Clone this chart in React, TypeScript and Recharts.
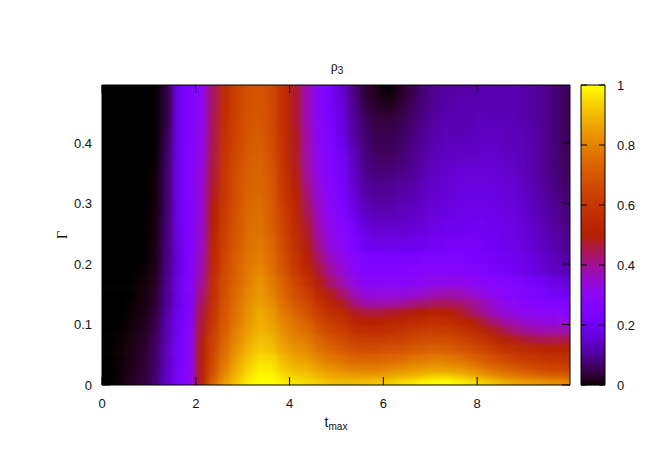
import React from 'react';
import { ScatterChart, Scatter, XAxis, YAxis } from 'recharts';

const tValues = [0.125,0.375,0.625,0.875,1.125,1.375,1.625,1.875,2.125,2.375,2.625,2.875,3.125,3.375,3.625,3.875,4.125,4.375,4.625,4.875,5.125,5.375,5.625,5.875,6.125,6.375,6.625,6.875,7.125,7.375,7.625,7.875,8.125,8.375,8.625,8.875,9.125,9.375,9.625,9.875];
const gammaValues = [0.49,0.47,0.44,0.41,0.38,0.35,0.32,0.29,0.26,0.23,0.21,0.19,0.17,0.15,0.135,0.12,0.105,0.09,0.075,0.06,0.045,0.035,0.025,0.015,0.005];
const rhoPercent = [
[0,0,0,0,0,4,19,25,30,44,56,64,68,69,66,56,47,37,28,22,15,8,3,1,0,2,5,8,10,11,11,11,12,12,12,12,11,10,8,6],
[0,0,0,0,0,4,19,25,30,44,56,64,68,69,66,56,47,37,28,22,16,9,4,2,1,3,6,8,10,11,12,12,12,12,12,12,11,10,8,6],
[0,0,0,0,0,4,19,25,30,45,57,64,69,70,66,56,47,37,29,23,17,10,6,4,4,5,7,9,11,12,12,12,13,13,13,12,11,10,8,6],
[0,0,0,0,0,5,19,25,31,45,58,65,70,71,67,57,48,38,29,24,18,11,7,5,5,6,8,10,12,13,13,13,14,14,13,13,12,10,8,6],
[0,0,0,0,0,6,19,26,32,46,59,66,71,72,68,57,48,38,30,25,20,13,8,6,6,7,9,11,13,14,14,14,15,15,14,13,12,10,8,6],
[0,0,0,0,0.2,6.5,19,26,33,47,60,67,72,73,69,58,49,39,31,26,21,14,9,8,8,9,10,12,14,15,16,16,16,16,15,14,12,10,8,6],
[0,0,0,0,0.3,7,19,26,34,48,61,68,73,74,70,60,51,42,33,28,23,16,11,10,10,11,12,14,15,16,17,17,17,17,16,15,13,11,9,7],
[0,0,0,0,0.5,7,18,25,34,50,62,69,74,75,71,62,53,44,35,29,25,18,13,12,12,13,14,15,16,17,18,18,18,18,17,16,14,12,10,8],
[0,0,0,0,0.7,7.5,18,25,35,51,63,70,75,76,72,64,55,47,37,31,27,22,17,15,15,15,16,17,18,19,19,20,20,19,18,17,15,13,11,9],
[0,0,0,0,1,8,17,25,36,53,64,71,76,78,74,66,57,49,40,33,29,25,20,19,19,19,19,20,21,22,22,22,21,20,19,18,16,14,12,10],
[0,0,0,0,1.2,8,17,25,37,54,65,72,77,79,75,67,59,51,43,36,32,27,24,23,23,23,23,24,24,24,24,23,22,21,20,19,17,15,13,11],
[0,0,0,0.2,1.6,8.5,17,25,38,55,66,73,78,81,76,69,61,54,46,39,34,29,26,26,26,26,27,28,28,28,27,26,25,23,22,20,18,16,14,13],
[0,0,0,0.4,2,9,18,25,40,56,67,74,79,83,78,72,64,58,49,43,38,32,28,28,28,28,29,30,31,31,31,30,28,27,25,24,22,20,18,16],
[0,0,0,0.6,2.5,9.5,18,26,42,57,68,75,81,84,80,74,67,62,54,48,43,37,33,33,33,33,34,35,37,38,37,35,32,30,28,26,24,23,21,20],
[0,0,0.1,0.8,3,10,18,26,44,58,69,76,82,85,82,76,70,66,59,53,48,42,38,38,38,39,41,43,44,44,43,41,38,34,31,29,27,26,25,25],
[0,0,0.2,1,3.5,11,19,26,46,59,70,77,83,87,84,78,73,68,62,57,54,48,46,46,47,48,49,50,51,50,48,44,40,36,33,32,30,29,28,28],
[0,0,0.4,1.5,4.5,12,20,26,47,60,71,78,84,88,85,80,76,72,66,61,58,53,51,51,52,53,55,56,57,56,54,50,46,42,38,36,34,33,32,32],
[0,0.05,0.6,1.8,5,12,20,27,48,62,72,80,85,89,87,82,78,75,69,65,62,57,56,56,57,58,60,61,62,61,59,56,52,48,44,41,39,38,38,38],
[0,0.1,0.8,2,5.5,12,20,27,49,63,74,81,87,91,89,84,80,78,73,69,66,62,61,61,62,63,65,66,66,66,64,61,58,54,50,48,46,45,45,45],
[0,0.15,1,2.4,6,13,21,27,50,64,75,83,89,92,91,86,83,81,76,73,70,67,66,66,67,68,70,71,72,71,69,66,64,60,57,55,53,52,51,51],
[0,0.2,1.3,2.8,6,13,21,28,50,66,77,85,91,95,94,89,86,84,80,77,75,72,72,72,73,74,76,77,78,77,75,72,70,67,64,61,60,58,57,57],
[0,0.25,1.5,3,6.5,13,21,28,51,67,79,87,93,96,96,91,88,87,83,80,78,76,76,76,77,78,80,81,82,81,80,77,74,71,69,66,64,62,61,61],
[0,0.3,1.7,3.2,6.5,14,22,28,51,68,80,88,94,98,97,93,90,89,86,84,82,80,80,80,81,83,84,85,86,85,84,82,79,76,74,71,69,67,66,65],
[0,0.35,1.9,3.4,7,14,22,29,51,70,82,90,96,99,99,95,93,92,89,87,86,85,85,85,86,88,89,91,93,93,91,88,85,82,79,77,75,73,72,71],
[0,0.4,2,3.5,7,14,22,29,52,74,85,92,98,100,100,98,96,95,93,91,90,90,91,92,93,95,97,99,100,100,98,96,93,91,88,86,85,84,83,82],
];
const frameCorners = [{ t: 0, g: 0 }, { t: 9.98, g: 0.496 }];
const barCorners = [{ x: 0, y: 0 }, { x: 1, y: 1 }];
const xTicks = [0, 2, 4, 6, 8];
const yTicks = [0, 0.1, 0.2, 0.3, 0.4];
const colorTicks = [0, 0.2, 0.4, 0.6, 0.8, 1];
const colorLevels = [0,1,2,3,4,5,6,7,8,9,10,11,12,13,14,15,16,17,18,19,20,21,22,23,24,25,26,27,28,29,30,31,32,33,34,35,36,37,38,39,40,41,42,43,44,45,46,47,48,49,50,51,52,53,54,55,56,57,58,59,60,61,62,63,64,65,66,67,68,69,70,71,72,73,74,75,76,77,78,79,80,81,82,83,84,85,86,87,88,89,90,91,92,93,94,95,96,97,98,99];

const W = 672, H = 471;
const L = 102, R = 570, T = 85, B = 385;
const XMAX = 9.98, YMAX = 0.496;
const SPLIT = 9; // rows above this index are tall and get a wider vertical softening
const FONT = '"Liberation Sans", Arial, sans-serif';
const SERIF = '"Liberation Serif", serif';

const palette = (v: number) => {
  const x = Math.min(1, Math.max(0, v));
  const r = Math.round(255 * Math.sqrt(x));
  const g = Math.round(255 * x * x * x);
  const b = Math.round(255 * Math.max(0, Math.sin(2 * Math.PI * x)));
  return `rgb(${r},${g},${b})`;
};

const heatData = gammaValues.flatMap((g, r) => {
  const top = r === 0 ? YMAX : (gammaValues[r - 1] + g) / 2;
  const bottom = r === gammaValues.length - 1 ? 0 : (gammaValues[r + 1] + g) / 2;
  return tValues.map((t, c) => ({
    t, g, r, v: rhoPercent[r][c] / 100,
    first: c === 0, last: c === tValues.length - 1,
    topRow: r === 0, bottomRow: r === gammaValues.length - 1,
    top, bottom,
  }));
});
const upperData = heatData.filter((d) => d.r <= SPLIT);
const lowerData = heatData.filter((d) => d.r > SPLIT);
const colorData = colorLevels.map((l) => ({ x: 0.5, y: (l + 0.5) / 100 }));

const sx = (R - L) / XMAX;
const sy = (B - T) / YMAX;

const HeatCell = (p: any) => {
  const d = p.payload;
  const cw = 0.25 * sx;
  const cx = p.cx, yTop = B - d.top * sy, yBot = B - d.bottom * sy;
  const pad = 24;
  const x0 = cx - cw / 2 - (d.first ? pad : 0);
  const x1 = cx + cw / 2 + (d.last ? pad : 0) + 0.5;
  const y0 = yTop - (d.topRow ? pad : 0);
  const y1 = yBot + (d.bottomRow || d.r === SPLIT ? pad : 0) + 0.5;
  return <rect x={x0} y={y0} width={x1 - x0} height={y1 - y0} fill={palette(d.v)} />;
};

const ColorCell = (p: any) => (
  <rect x={581} y={p.cy - 1.5} width={24} height={3.3} fill={palette(p.payload.y)} />
);
const Nothing = () => null;
const NoLabel = () => <g />;

const tickStyle = { fontSize: 13, fontFamily: FONT, fill: '#111' };
const line = { stroke: '#000', strokeWidth: 1 };
const fmt = (v: number) => String(v);
const layer: React.CSSProperties = { position: 'absolute', left: 0, top: 0 };

export default function App() {
  return (
    <div className="page" style={{ position: 'absolute', left: 0, top: 0, width: W, height: H, background: '#fff' }}>
      <style>{`.page .heatU{filter:url(#softU);clip-path:url(#plotclip)}.page .heatL{filter:url(#softL);clip-path:url(#plotclip)}`}</style>
      <svg width={0} height={0} style={{ position: 'absolute' }}>
        <defs>
          <filter id="softU" filterUnits="userSpaceOnUse" x={0} y={0} width={W} height={H} colorInterpolationFilters="sRGB">
            <feGaussianBlur stdDeviation="3.5 7" />
          </filter>
          <filter id="softL" filterUnits="userSpaceOnUse" x={0} y={0} width={W} height={H} colorInterpolationFilters="sRGB">
            <feGaussianBlur stdDeviation="3.5 2" />
          </filter>
          <clipPath id="plotclip" clipPathUnits="userSpaceOnUse">
            <rect x={L} y={T} width={R - L} height={B - T} />
          </clipPath>
        </defs>
      </svg>
      <div style={layer}>
        <ScatterChart width={W} height={H} margin={{ left: L, right: W - R, top: T, bottom: H - B }}>
          <XAxis xAxisId="h" hide type="number" dataKey="t" domain={[0, XMAX]} allowDataOverflow />
          <YAxis yAxisId="h" hide type="number" dataKey="g" domain={[0, YMAX]} allowDataOverflow />
          <Scatter className="heatU" data={upperData} xAxisId="h" yAxisId="h" isAnimationActive={false} shape={HeatCell} />
          <Scatter className="heatL" data={lowerData} xAxisId="h" yAxisId="h" isAnimationActive={false} shape={HeatCell} />
        </ScatterChart>
      </div>
      <div style={layer}>
        <ScatterChart width={W} height={H} margin={{ left: 581, right: W - 605, top: T, bottom: H - B }}>
          <XAxis xAxisId="c" hide type="number" dataKey="x" domain={[0, 1]} />
          <YAxis yAxisId="c" hide type="number" dataKey="y" domain={[0, 1]} />
          <Scatter data={colorData} xAxisId="c" yAxisId="c" isAnimationActive={false} shape={ColorCell} />
        </ScatterChart>
      </div>
      <div style={layer}>
        <ScatterChart width={W} height={H} margin={{ left: L - 60, right: W - R - 1, top: T - 1, bottom: H - B - 40 }}>
          <XAxis xAxisId="b" type="number" dataKey="t" domain={[0, XMAX]} ticks={xTicks} allowDataOverflow interval={0}
            height={40} tickSize={-8} tickMargin={22} tick={tickStyle} tickFormatter={fmt} axisLine={line} tickLine={line} />
          <XAxis xAxisId="t" orientation="top" type="number" dataKey="t" domain={[0, XMAX]} ticks={xTicks} allowDataOverflow interval={0}
            height={1} tickSize={-8} tick={NoLabel} axisLine={line} tickLine={line} />
          <YAxis yAxisId="l" type="number" dataKey="g" domain={[0, YMAX]} ticks={yTicks} allowDataOverflow interval={0}
            width={60} tickSize={-8} tickMargin={18} tick={tickStyle} tickFormatter={fmt} axisLine={line} tickLine={line} />
          <YAxis yAxisId="r" orientation="right" type="number" dataKey="g" domain={[0, YMAX]} ticks={yTicks} allowDataOverflow interval={0}
            width={1} tickSize={-8} tick={NoLabel} axisLine={line} tickLine={line} />
          <Scatter data={frameCorners} xAxisId="b" yAxisId="l" isAnimationActive={false} shape={Nothing} />
          <Scatter data={frameCorners} xAxisId="t" yAxisId="r" isAnimationActive={false} shape={Nothing} />
          <text x={337} y={71} textAnchor="middle" fontSize={14} fontFamily={FONT} fill="#111">
            <tspan fontFamily={SERIF}>ρ</tspan><tspan fontSize={10} dy={3}>3</tspan>
          </text>
          <text x={336} y={427} textAnchor="middle" fontSize={14} fontFamily={FONT} fill="#111">
            t<tspan fontSize={10} dy={3}>max</tspan>
          </text>
          <text x={67} y={235} textAnchor="middle" fontSize={14} fontFamily={SERIF} fill="#111" transform="rotate(-90 67 235)">Γ</text>
        </ScatterChart>
      </div>
      <div style={layer}>
        <ScatterChart width={W} height={H} margin={{ left: 581 - 10, right: W - 605 - 40, top: T - 1, bottom: H - B - 1 }}>
          <XAxis xAxisId="c" type="number" dataKey="x" domain={[0, 1]} ticks={[]} height={1} axisLine={line} tick={false} tickLine={false} />
          <XAxis xAxisId="ct" orientation="top" type="number" dataKey="x" domain={[0, 1]} ticks={[]} height={1} axisLine={line} tick={false} tickLine={false} />
          <YAxis yAxisId="cl" type="number" dataKey="y" domain={[0, 1]} ticks={colorTicks} interval={0} width={10} tickSize={-6} tick={NoLabel} axisLine={line} tickLine={line} />
          <YAxis yAxisId="cr" orientation="right" type="number" dataKey="y" domain={[0, 1]} ticks={colorTicks} interval={0} width={40} tickSize={-6} tickMargin={18}
            tick={{ ...tickStyle, textAnchor: 'start' }} tickFormatter={fmt} axisLine={line} tickLine={line} />
          <Scatter data={barCorners} xAxisId="c" yAxisId="cl" isAnimationActive={false} shape={Nothing} />
          <Scatter data={barCorners} xAxisId="ct" yAxisId="cr" isAnimationActive={false} shape={Nothing} />
        </ScatterChart>
      </div>
    </div>
  );
}
